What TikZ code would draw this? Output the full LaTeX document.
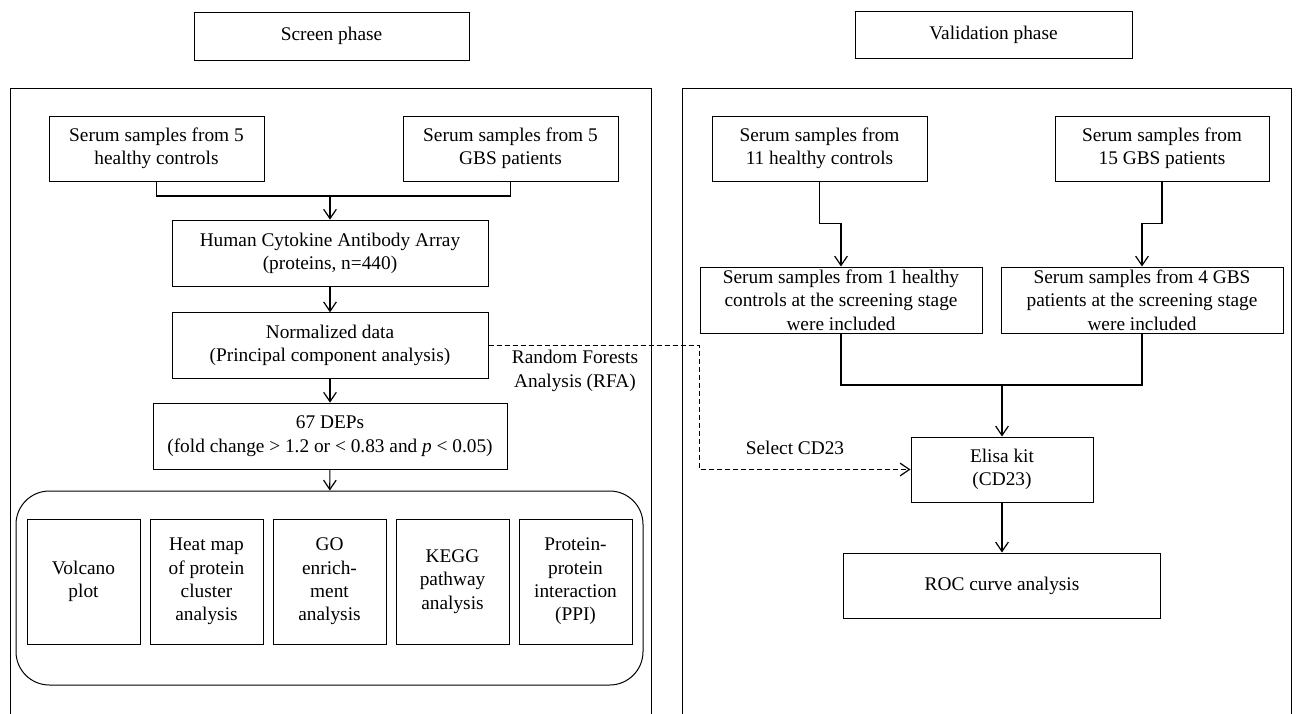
\documentclass[tikz,border=0pt]{standalone}
\usepackage{fontspec}
\setmainfont{Liberation Serif}
\usepackage{tikz}
\usetikzlibrary{arrows.meta,positioning}
\newcommand{\bodyfont}{\fontsize{14.5}{17.5}\selectfont}

\begin{document}
\begin{tikzpicture}[x=0.75pt, y=-0.75pt, every node/.style={align=center, font=\bodyfont},
  box/.style={draw, line width=0.75pt, inner sep=0pt},
  arr/.style={-{Straight Barb[length=7pt, width=9.5pt]}, line width=0.9pt}]
\useasboundingbox (0,0) rectangle (1296,714);
% headers and the two open panels
\node[box, minimum width=206.25pt, minimum height=36pt] (screen) at (331.5,36) {Screen phase};
\node[box, minimum width=207.75pt, minimum height=35.25pt] (valid) at (993.5,34.5) {Validation phase};
\draw[line width=0.75pt] (10.5,714) |- (651,88) -- (651,714);
\draw[line width=0.75pt] (682,714) |- (1291,88) -- (1291,714);

% screen phase
\node[box, minimum width=161.25pt, minimum height=48.75pt] (hc5) at (156.5,148.5) {Serum samples from 5\\healthy controls};
\node[box, minimum width=161.25pt, minimum height=48.75pt] (gbs5) at (510.5,148.5) {Serum samples from 5\\GBS patients};
\node[box, minimum width=237pt, minimum height=50pt] (array) at (330,253.5) {Human Cytokine Antibody Array\\(proteins, n=440)};
\node[box, minimum width=237pt, minimum height=49pt, below=18.75pt of array] (norm) {Normalized data\\(Principal component analysis)};
\node[box, minimum width=265.5pt, minimum height=49.5pt, below=18pt of norm] (deps) {67 DEPs\\(fold change > 1.2 or < 0.83 and \textit{p} < 0.05)};
\node[box, rounded corners=25pt, minimum width=470.25pt, minimum height=145.5pt] (results) at (329.5,588) {};
\node[box, minimum width=84.75pt, minimum height=93.75pt] (volcano) at (83.5,581.5) {Volcano\\plot};
\node[box, minimum width=84.75pt, minimum height=93.75pt, right=6.75pt of volcano] (heat) {Heat map\\of protein\\cluster\\analysis};
\node[box, minimum width=84.75pt, minimum height=93.75pt, right=6.75pt of heat] (go) {GO\\enrich-\\ment\\analysis};
\node[box, minimum width=84.75pt, minimum height=93.75pt, right=6.75pt of go] (kegg) {KEGG\\pathway\\analysis};
\node[box, minimum width=84.75pt, minimum height=93.75pt, right=6.75pt of kegg] (ppi) {Protein-\\protein\\interaction\\(PPI)};
\coordinate (joinL) at (330,196);
\draw[line width=0.9pt] (hc5.south) |- (joinL) -| (gbs5.south);
\draw[arr] (joinL) -- (array);
\draw[arr] (array) -- (norm);
\draw[arr] (norm) -- (deps);
\draw[arr] (deps) -- (results);

% validation phase
\node[box, minimum width=161.25pt, minimum height=48.75pt] (hc11) at (819.5,148.5) {Serum samples from\\11 healthy controls};
\node[box, minimum width=160.5pt, minimum height=48.75pt] (gbs15) at (1162,148.5) {Serum samples from\\15 GBS patients};
\node[box, minimum width=211.5pt, minimum height=49.5pt] (incl1) at (841,300) {Serum samples from 1 healthy\\controls at the screening stage\\were included};
\node[box, minimum width=211.5pt, minimum height=49.5pt] (incl4) at (1142,300) {Serum samples from 4 GBS\\patients at the screening stage\\were included};
\node[box, minimum width=136.5pt, minimum height=48.75pt] (elisa) at (1002,469.5) {Elisa kit\\(CD23)};
\node[box, minimum width=237.75pt, minimum height=48.75pt, below=37.5pt of elisa] (roc) {ROC curve analysis};
\draw[arr] (hc11.south) -- ++(0,42) -| (incl1.north);
\draw[arr] (gbs15.south) -- ++(0,42) -| (incl4.north);
\coordinate (joinR) at (1002,385);
\draw[line width=0.9pt] (incl1.south) |- (joinR) -| (incl4.south);
\draw[arr] (joinR) -- (elisa);
\draw[arr] (elisa) -- (roc);

% link between the phases
\draw[arr, dash pattern=on 4pt off 2pt] (norm.east) -- ++(211,0) |- (elisa.west);
\node (rfa) at (575,371) {Random Forests\\Analysis (RFA)};
\node (sel) at (795,448) {Select CD23};
\end{tikzpicture}
\end{document}
